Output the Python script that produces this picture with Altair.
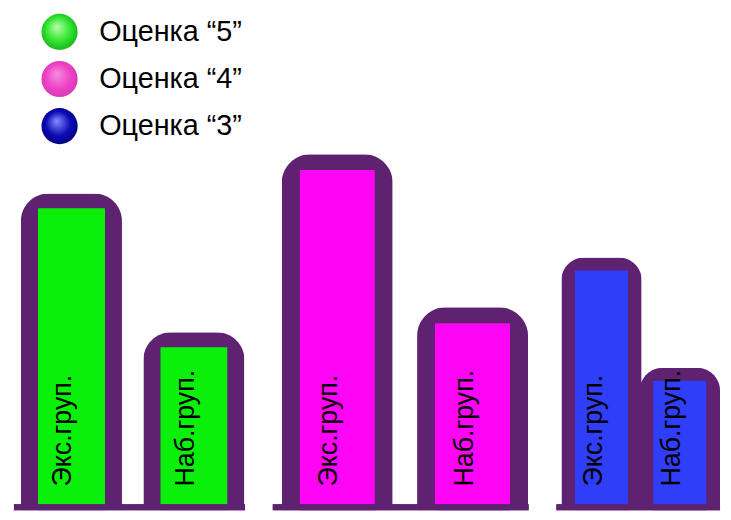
import altair as alt
import pandas as pd

# ---- data ----
groups = ["Экс.груп.", "Наб.груп."]
grades = ["5", "4", "3"]
legend_labels = ["Оценка “5”", "Оценка “4”", "Оценка “3”"]
values_5 = [44.5, 25]
values_4 = [50, 28.5]
values_3 = [35.5, 20]
bar_colors = ["#0af00a", "#ff05f5", "#2f3ef8"]
legend_light = ["#b6ffa8", "#f78ee0", "#8a8cff"]
legend_mid = ["#2fe52f", "#ee42c6", "#0a0ab4"]
legend_dark = ["#169c16", "#d232ae", "#00006e"]

OUTLINE = "#5e2271"
FONT = "Liberation Sans"

all_values = [values_5, values_4, values_3]
ymax = max(max(v) for v in all_values)
ytop = ymax + 2

# per-panel layout/styling:
# (width, paddingInner, paddingOuter, align, outer width, inner width, top inset, outer radius, inner radius)
panel_style = [
    (233, 0.166, 0.026, 1.0, 102, 68, 15, 28, 11),
    (258, 0.172, 0.031, 1.0, 112, 76, 16, 29, 12),
    (165, 0.0, 0.0445, 0.857, 81, 54, 13, 23, 9),
]
BASE_T = 6
PANEL_H = 373.4
LEGEND_H = 504 - PANEL_H


def panel(i):
    df = pd.DataFrame({"group": groups, "value": all_values[i]})
    w, pi, po, al, ow, iw, inset, ro, ri = panel_style[i]
    xenc = alt.X(
        "group:N",
        sort=groups,
        scale=alt.Scale(paddingInner=pi, paddingOuter=po, align=al),
        axis=None,
    )
    yscale = alt.Scale(domain=[0, ytop], nice=False, zero=True)
    yenc = alt.Y("value:Q", scale=yscale, axis=None)
    outer = alt.Chart(df).mark_bar(
        width=ow, fill=OUTLINE, strokeWidth=0,
        cornerRadiusTopLeft=ro, cornerRadiusTopRight=ro,
    ).encode(x=xenc, y=yenc)
    inner = alt.Chart(df).mark_bar(
        width=iw, fill=bar_colors[i], strokeWidth=0, yOffset=inset,
        cornerRadiusTopLeft=ri, cornerRadiusTopRight=ri,
    ).encode(x=xenc, y=yenc)
    base = alt.Chart(df).mark_rule(
        color=OUTLINE, strokeWidth=BASE_T, yOffset=-BASE_T / 2
    ).encode(
        x=alt.value(0), x2=alt.value(w), y=alt.Y(datum=0, scale=yscale)
    )
    texts = alt.Chart(df).mark_text(
        angle=270, align="left", baseline="alphabetic", dx=24, dy=0,
        font=FONT, fontSize=27, color="#000000",
    ).encode(
        x=alt.X("group:N", sort=groups),
        y=alt.Y(datum=0, scale=yscale),
        text="group:N",
    )
    return alt.layer(outer, inner, base, texts).properties(width=w, height=PANEL_H)


# ---- legend ----
leg_df = pd.DataFrame({"label": legend_labels, "grade": grades})
leg_y = alt.Y("label:N", sort=legend_labels,
              scale=alt.Scale(type="point", range=[22, 117], padding=0), axis=None)
leg_layers = []
for i, lab in enumerate(legend_labels):
    grad = alt.RadialGradient(
        gradient="radial",
        stops=[
            alt.GradientStop(offset=0, color=legend_light[i]),
            alt.GradientStop(offset=0.55, color=legend_mid[i]),
            alt.GradientStop(offset=1, color=legend_dark[i]),
        ],
        x1=0.42, y1=0.35, r1=0.0, x2=0.5, y2=0.5, r2=0.62,
    )
    leg_layers.append(
        alt.Chart(leg_df).transform_filter(alt.datum.label == lab)
        .mark_point(shape="circle", filled=True, fill=grad, size=1330,
                    opacity=1, strokeWidth=0)
        .encode(x=alt.value(46), y=leg_y)
    )
leg_text = alt.Chart(leg_df).mark_text(
    align="left", baseline="middle", font=FONT, fontSize=29, color="#000000"
).encode(x=alt.value(86), y=leg_y, text="label:N")
legend = alt.layer(*leg_layers, leg_text).properties(width=250, height=LEGEND_H)

row = alt.hconcat(panel(0), panel(1), panel(2), spacing=28, bounds="flush")
chart = alt.vconcat(legend, row, spacing=0, bounds="flush").properties(
    padding={"left": 3, "top": 0, "right": 0, "bottom": 0},
    background="#ffffff",
).configure_view(strokeWidth=0)

chart.save("out.html", embed_options={"renderer": "svg", "actions": False})
